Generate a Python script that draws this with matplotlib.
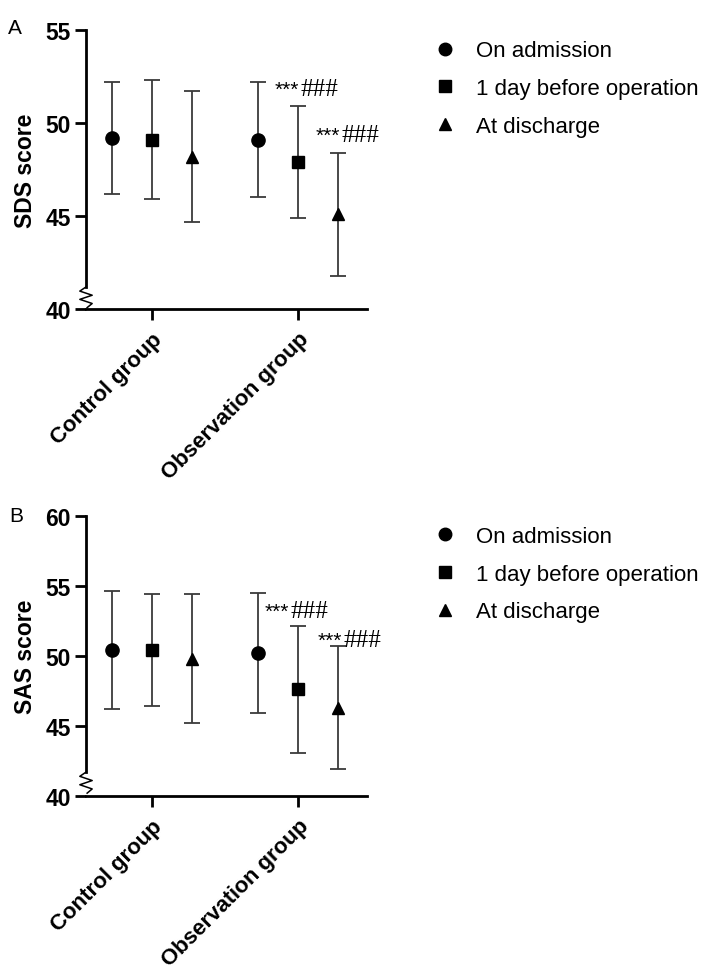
import matplotlib
matplotlib.use('Agg')
import matplotlib.pyplot as plt
from matplotlib.lines import Line2D
import numpy as np

plt.rcParams['font.family'] = ['Liberation Sans', 'DejaVu Sans']

groups = ['Control group', 'Observation group']
times = ['On admission', '1 day before operation', 'At discharge']
markers = ['o', 's', '^']

# mean and SD per time point, [control, observation]
sds_mean = [[49.2, 49.1], [49.1, 47.9], [48.2, 45.1]]
sds_sd = [[3.0, 3.1], [3.2, 3.0], [3.5, 3.3]]
sas_mean = [[50.4, 50.2], [50.4, 47.6], [49.8, 46.3]]
sas_sd = [[4.2, 4.3], [4.0, 4.5], [4.6, 4.4]]

sds_ticks = [40, 45, 50, 55]
sas_ticks = [40, 45, 50, 55, 60]

sig_label = ('***', '###')

fig = plt.figure(figsize=(7.09, 9.70), dpi=100)
axA = fig.add_axes([0.1213, 0.6804, 0.3963, 0.2876])
axB = fig.add_axes([0.1213, 0.1784, 0.3963, 0.2889])

offsets = [-0.275, 0.0, 0.275]
xpos = np.arange(1, len(groups) + 1)


def draw_panel(ax, means, sds, ticks, ylabel, zig, notes):
	for i in range(len(times)):
		ax.errorbar(xpos + offsets[i], means[i], yerr=sds[i], fmt=markers[i],
			color='black', ecolor='#3a3a3a', elinewidth=1.3, capsize=5.5,
			capthick=1.3, markersize=9.5 if i == 0 else 9,
			clip_on=False, zorder=3)
	ax.set_xlim(0.548, 2.473)
	ax.set_ylim(ticks[0], ticks[-1])
	ax.set_yticks(ticks)
	ax.set_xticks(xpos)
	ax.set_xticklabels(groups, rotation=45, ha='right', rotation_mode='anchor',
		fontsize=16, fontweight='bold')
	for lab in ax.get_yticklabels():
		lab.set_fontweight('bold')
		lab.set_fontsize(16.5)
	ax.tick_params(axis='both', width=2, length=8, pad=3)
	ax.tick_params(axis='x', pad=6)
	ax.spines['top'].set_visible(False)
	ax.spines['right'].set_visible(False)
	ax.spines['left'].set_linewidth(2)
	ax.spines['bottom'].set_linewidth(2)
	ax.spines['left'].set_bounds(ticks[0] + zig[1] * (ticks[-1] - ticks[0]), ticks[-1])
	ax.set_ylabel(ylabel, fontsize=16.5, fontweight='bold', labelpad=6)
	# axis break zigzag
	y0, y1 = zig
	ys = np.linspace(y1, y0, 6)
	xs = [0, -0.022, 0.022, -0.022, 0.022, 0.004]
	ax.plot(xs, ys, transform=ax.transAxes, color='black', lw=1.1, clip_on=False)
	for (x, y) in notes:
		ax.annotate(sig_label[0], (x, y), xytext=(0, 0), textcoords='offset points',
			fontsize=15, ha='left', va='baseline', annotation_clip=False)
		ax.annotate(sig_label[1], (x, y), xytext=(18.5, 0), textcoords='offset points',
			fontsize=18, family='Liberation Serif', ha='left', va='baseline',
			annotation_clip=False)
	handles = [Line2D([], [], marker=m, color='black', linestyle='none', markersize=9)
		for m in markers]
	ax.legend(handles, times, loc='upper left', bbox_to_anchor=(1.206, 0.995), frameon=False,
		fontsize=16, handletextpad=0.9, labelspacing=0.75, handlelength=1.0,
		borderaxespad=0)


draw_panel(axA, sds_mean, sds_sd, sds_ticks, 'SDS score', (0.005, 0.079),
	[(1.842, 51.5), (2.123, 49.03)])
draw_panel(axB, sas_mean, sas_sd, sas_ticks, 'SAS score', (0.01, 0.085),
	[(1.774, 52.79), (2.137, 50.73)])

fig.text(0.011, 1 - 29 / 970, 'A', fontsize=15, va='center', ha='left')
fig.text(0.013, 1 - 517 / 970, 'B', fontsize=15, va='center', ha='left')

fig.savefig('out.png', dpi=100)
